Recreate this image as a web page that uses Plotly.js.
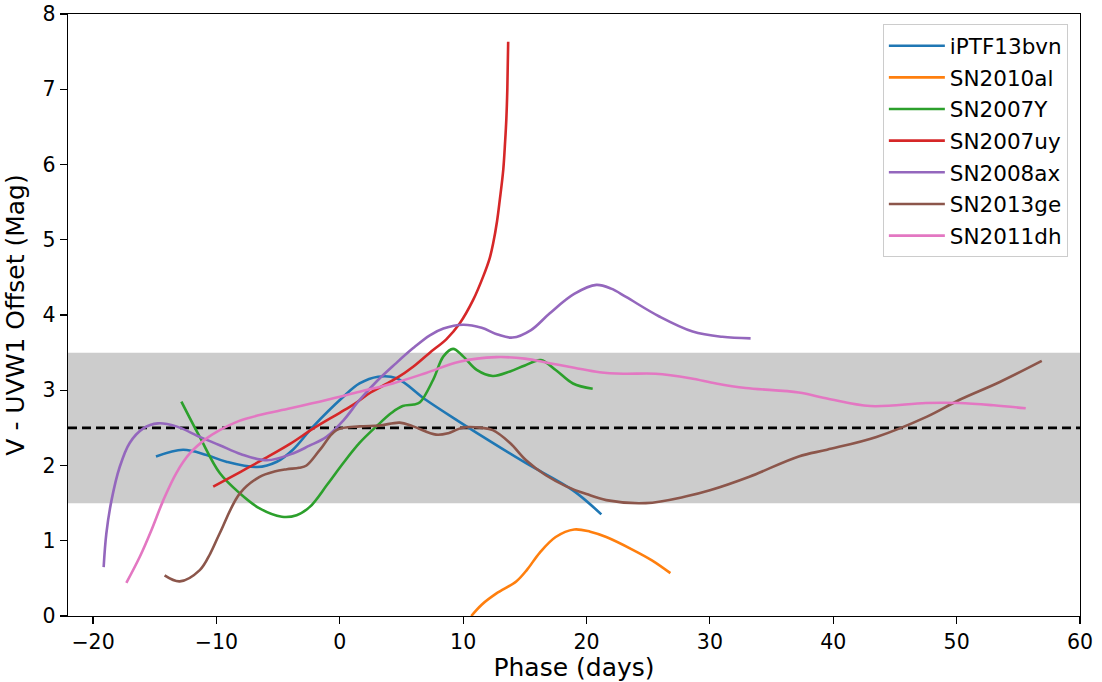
<!DOCTYPE html>
<html>
<head>
<meta charset="utf-8">
<script src="https://cdn.plot.ly/plotly-3.0.1.min.js"></script>
<style>html,body{margin:0;padding:0;background:#fff;}#chart{width:1102px;height:682px;}</style>
</head>
<body>
<div id="chart"></div>
<script>
// ---- data ----
const names = ["iPTF13bvn","SN2010al","SN2007Y","SN2007uy","SN2008ax","SN2013ge","SN2011dh"];
const colors = ["#1f77b4","#ff7f0e","#2ca02c","#d62728","#9467bd","#8c564b","#e377c2"];

const iptf_x = [-14.9,-12.7,-10.8,-9.2,-6.7,-5.1,-3.8,-2.2,0.27,1.6,3.1,4.6,7.0,9.7,12.4,15.1,18.9,21.2];
const iptf_y = [2.12,2.21,2.14,2.05,1.98,2.05,2.21,2.51,2.91,3.09,3.18,3.16,2.87,2.58,2.30,2.03,1.67,1.35];

const sn10al_x = [10.66,11.5,12.7,14.3,15.2,16.2,17.5,19.0,20.3,21.6,23.75,25.3,26.8];
const sn10al_y = [0.0,0.15,0.30,0.46,0.62,0.84,1.05,1.15,1.12,1.05,0.88,0.74,0.57];

const sn07Y_x = [-12.84,-11.35,-9.73,-8.1,-6.5,-4.7,-3.5,-2.43,-1,0.27,1.6,2.97,4.2,5.1,6.0,6.5,7.57,8.4,9.18,10.0,11.1,12.4,13.8,15.0,16.3,17.5,18.9,20.5];
const sn07Y_y = [2.85,2.38,1.90,1.63,1.43,1.32,1.34,1.45,1.75,2.03,2.30,2.52,2.70,2.79,2.81,2.84,3.14,3.45,3.55,3.45,3.27,3.19,3.25,3.33,3.40,3.27,3.09,3.02];

const sn07uy_x = [-10.26,-8,-6,-4,-2.16,0,1.2,2.5,3.5,4.6,6.0,7.3,8.65,9.73,10.81,11.62,12.16,12.43,12.75,12.97,13.25,13.4,13.5,13.58,13.65];
const sn07uy_y = [1.72,1.92,2.10,2.29,2.49,2.70,2.82,2.97,3.06,3.16,3.32,3.50,3.68,3.89,4.20,4.51,4.76,4.95,5.25,5.53,5.93,6.30,6.60,7.00,7.63];

const sn08ax_x = [-19.14,-18.92,-18.5,-17.84,-17.03,-15.95,-14.74,-13.25,-11.35,-9.73,-8.0,-5.9,-3.8,-2.5,-1.08,0.3,1.6,3,4.5,5.95,7.3,8.4,10.0,11.5,12.8,14.0,15.5,17.0,19,20.8,22,23.2,25.9,28.6,31,33.3];
const sn08ax_y = [0.65,1.10,1.54,1.98,2.30,2.49,2.56,2.52,2.38,2.27,2.15,2.07,2.16,2.26,2.38,2.60,2.87,3.12,3.35,3.56,3.73,3.82,3.87,3.83,3.74,3.70,3.80,4.02,4.28,4.40,4.35,4.24,3.98,3.78,3.71,3.69];

const sn13ge_x = [-14.2,-12.97,-11.35,-10.5,-9.73,-8.1,-6.5,-5.3,-4.3,-3.3,-2.7,-1.6,-0.27,1.6,3.2,4.86,5.95,7.8,8.8,9.7,10.3,11.5,12.4,13.8,15.1,16.7,18.4,20,21.6,24.8,28.1,30.0,33.2,37.2,39.5,43.5,47.6,50.2,53.5,56.9];
const sn13ge_y = [0.54,0.46,0.61,0.83,1.10,1.63,1.85,1.92,1.95,1.97,2.00,2.21,2.47,2.52,2.53,2.57,2.52,2.41,2.43,2.49,2.51,2.50,2.47,2.30,2.07,1.87,1.72,1.62,1.54,1.50,1.59,1.67,1.85,2.12,2.21,2.38,2.65,2.87,3.11,3.39];

const sn11dh_x = [-17.3,-16.2,-15.27,-14.3,-13.25,-12.16,-10.8,-9.73,-8.2,-6.5,-4,-1.08,1.6,4.3,7,9.7,12.7,15,17.0,19,21.05,23,25.6,28.4,30.5,32.9,37.2,39.5,43,47.5,50.2,53,55.6];
const sn11dh_y = [0.44,0.79,1.14,1.54,1.90,2.16,2.36,2.47,2.59,2.67,2.76,2.87,2.98,3.09,3.23,3.38,3.44,3.42,3.36,3.30,3.24,3.22,3.22,3.16,3.09,3.03,2.97,2.89,2.79,2.83,2.83,2.80,2.76];

const bandLow = 1.5, bandHigh = 3.5, refLevel = 2.5;
const xTickVals = [-20,-10,0,10,20,30,40,50,60];
const yTickVals = [0,1,2,3,4,5,6,7,8];

const xs = [iptf_x, sn10al_x, sn07Y_x, sn07uy_x, sn08ax_x, sn13ge_x, sn11dh_x];
const ys = [iptf_y, sn10al_y, sn07Y_y, sn07uy_y, sn08ax_y, sn13ge_y, sn11dh_y];

const traces = names.map((n, i) => ({
  x: xs[i], y: ys[i], name: n, type: 'scatter', mode: 'lines', legendgroup: 'g' + i,
  line: {color: colors[i], width: 2.6, shape: 'spline', smoothing: 1}
}));

const FONT = 'DejaVu Sans, sans-serif';
const layout = {
  width: 1102, height: 682,
  margin: {l: 68, r: 22, t: 14, b: 66},
  paper_bgcolor: '#fff', plot_bgcolor: '#fff',
  font: {family: FONT, color: '#000', size: 20},
  showlegend: true,
  legend: {
    x: 0.988, y: 0.983, xanchor: 'right', yanchor: 'top',
    bgcolor: 'rgba(255,255,255,0.85)', bordercolor: '#cccccc', borderwidth: 1,
    font: {family: FONT, size: 21.5, color: '#000'},
    tracegroupgap: 0.7, itemwidth: 56
  },
  xaxis: {
    range: [-22.03, 60], tickvals: xTickVals, ticks: 'outside', ticklen: 7, tickwidth: 1.2,
    tickcolor: '#000', showline: true, linecolor: '#000', linewidth: 1.3, mirror: true,
    showgrid: false, zeroline: false, tickfont: {family: FONT, size: 20.5},
    title: {text: 'Phase (days)', font: {family: FONT, size: 25}, standoff: 6}
  },
  yaxis: {
    range: [0, 8], tickvals: yTickVals, ticks: 'outside', ticklen: 7, tickwidth: 1.2,
    tickcolor: '#000', showline: true, linecolor: '#000', linewidth: 1.3, mirror: true,
    showgrid: false, zeroline: false, tickfont: {family: FONT, size: 20.5},
    title: {text: 'V - UVW1 Offset (Mag)', font: {family: FONT, size: 25}, standoff: 10}
  },
  shapes: [
    {type: 'rect', xref: 'paper', yref: 'y', x0: 0, x1: 1, y0: bandLow, y1: bandHigh,
     fillcolor: '#cccccc', line: {width: 0}, layer: 'below'},
    {type: 'line', xref: 'paper', yref: 'y', x0: 0, x1: 1, y0: refLevel, y1: refLevel,
     line: {color: '#000', width: 2.6, dash: '9px,5px'}, layer: 'below'}
  ]
};

Plotly.newPlot('chart', traces, layout, {staticPlot: true, displayModeBar: false});
</script>
</body>
</html>
